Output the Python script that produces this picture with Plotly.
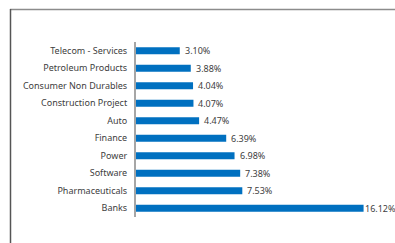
import plotly.graph_objects as go

categories = ["Telecom - Services", "Petroleum Products", "Consumer Non Durables",
              "Construction Project", "Auto", "Finance", "Power", "Software",
              "Pharmaceuticals", "Banks"]
values = [3.10, 3.88, 4.04, 4.07, 4.47, 6.39, 6.98, 7.38, 7.53, 16.12]
labels = [f"{v:.2f}%" for v in values]

W, H = 395, 243
L, R, T, B = 136, 19, 42, 26
FONT = "Noto Sans"
XMAX = 17

pw = W - L - R
ph = H - T - B

fig = go.Figure(go.Bar(
    x=values, y=categories, orientation="h",
    marker=dict(color="#0070C0", line=dict(width=0)),
    width=0.4,
    hoverinfo="x+y",
))

for v, lab, cat in zip(values, labels, categories):
    # labels near the right edge sit tight against the bar end
    shift = -1 if v / XMAX > 0.9 else 3
    fig.add_annotation(x=v, y=cat, text=lab, showarrow=False,
                       xanchor="left", yanchor="middle", xshift=shift,
                       font=dict(family=FONT, size=9, color="#404040"))

fig.update_layout(
    width=W, height=H,
    margin=dict(l=L, r=R, t=T, b=B, pad=0),
    paper_bgcolor="white", plot_bgcolor="white",
    showlegend=False,
    xaxis=dict(range=[0, XMAX], visible=False, showgrid=False, zeroline=False,
               automargin=False),
    yaxis=dict(autorange=False, range=[9.5, -0.5], showgrid=False, zeroline=False,
               showline=True, linecolor="#a6a6a6", linewidth=2,
               ticks="", ticklen=0, automargin=False, ticklabelstandoff=5,
               tickfont=dict(family=FONT, size=9, color="#404040")),
)

def px_x(x):
    return (x - L) / pw
def px_y(y):
    return 1 - (y - T) / ph

# outer frame lines (page pixel coords)
fig.add_shape(type="line", xref="paper", yref="paper",
              x0=px_x(10), x1=px_x(400), y0=px_y(9.5), y1=px_y(9.5),
              line=dict(color="#8c8c8c", width=1.5))
fig.add_shape(type="line", xref="paper", yref="paper",
              x0=px_x(10.5), x1=px_x(10.5), y0=px_y(9), y1=px_y(250),
              line=dict(color="#555555", width=1.5))

fig.write_html(
    "out.html",
    config={"displayModeBar": False},
    post_script="document.body.style.margin='0';document.body.style.overflow='hidden';",
)
